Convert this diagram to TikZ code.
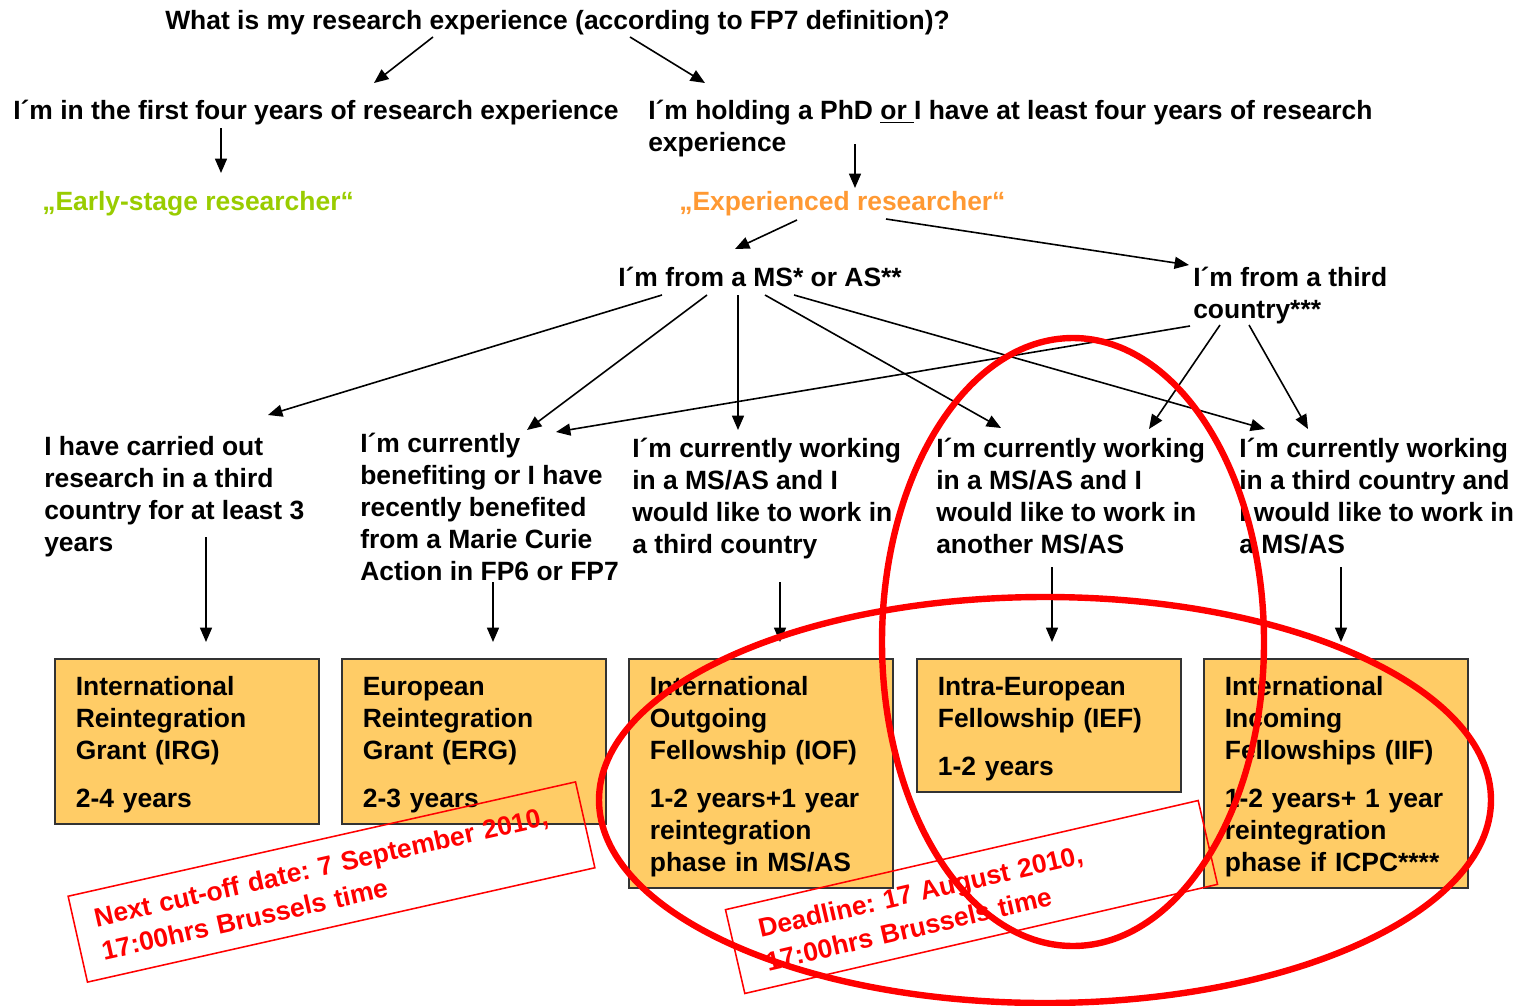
\documentclass[tikz,border=0pt]{standalone}
\usepackage{fontspec}
\setmainfont{Liberation Sans}
\usetikzlibrary{shapes,arrows.meta,positioning}
\definecolor{grantfill}{HTML}{FFCC66}
\definecolor{esrgreen}{HTML}{99CC00}
\definecolor{erorange}{HTML}{FF9933}
\frenchspacing

\begin{document}
\begin{tikzpicture}[x=0.025cm, y=-0.025cm,
  every node/.style={inner sep=0pt, anchor=north west, align=left, font=\bfseries\fontsize{18.8}{22.8}\selectfont},
  arr/.style={-{Triangle[length=0.36cm, width=0.3cm]}, line width=0.04cm},
  grant/.style={draw=black!80, line width=1.2pt, fill=grantfill, text width=5.55cm, inner xsep=0.525cm, minimum width=6.6cm, execute at begin node={\rule{0pt}{18pt}}},
  stamp/.style={draw=red, line width=1.1pt, text=red, anchor=center, font=\bfseries\fontsize{18.8}{24.2}\selectfont},
  ring/.style={draw=red, line width=0.16cm}]

\useasboundingbox (0,0) rectangle (1520,1006);

% Research experience
\node (title) at (165,10) {What is my research experience (according to FP7 definition)?};
\node (early) at (13,100) {I´m in the first four years of research experience};
\node (exper) at (648,100) {I´m holding a PhD \underline{or\ }I have at least four years of research\\experience};

% Researcher type
\node[text=esrgreen] (esr) at (42,191) {„Early-stage researcher“};
\node[text=erorange] (er) at (679,191) {„Experienced researcher“};

% Origin
\node (ms) at (618,267) {I´m from a MS* or AS**};
\node (tc) at (1193,267) {I´m from a third\\country***};

% Situation
\node (q1) at (44,436) {I have carried out\\research in a third\\country for at least 3\\years};
\node (q2) at (360,433) {I´m currently\\benefiting or I have\\recently benefited\\from a Marie Curie\\Action in FP6 or FP7};
\node (q3) at (632,438) {I´m currently working\\in a MS/AS and I\\would like to work in\\a third country};
\node (q4) at (936,438) {I´m currently working\\in a MS/AS and I\\would like to work in\\another MS/AS};
\node (q5) at (1239,438) {I´m currently working\\in a third country and\\I would like to work in\\a MS/AS};

% Grants
\node[grant, minimum height=4.125cm] (irg) at (54,658) {International\\Reintegration\\Grant (IRG)\\[0.4cm]2-4 years};
\node[grant, minimum height=4.125cm] (erg) at (341,658) {European\\Reintegration\\Grant (ERG)\\[0.4cm]2-3 years};
\node[grant, minimum height=5.725cm] (iof) at (628,658) {International\\Outgoing\\Fellowship (IOF)\\[0.4cm]1-2 years+1 year\\reintegration\\phase in MS/AS};
\node[grant, minimum height=3.325cm] (ief) at (916,658) {Intra-European\\Fellowship (IEF)\\[0.4cm]1-2 years};
\node[grant, minimum height=5.725cm] (iif) at (1203,658) {International\\Incoming\\Fellowships (IIF)\\[0.4cm]1-2 years+ 1 year\\reintegration\\phase if ICPC****};

% Arrows
\draw[arr] ([shift={(268,27)}]title.north west) -- ([shift={(361,-17)}]early.north west);
\draw[arr] ([shift={(465,27)}]title.north west) -- ([shift={(57,-17)}]exper.north west);
\draw[arr] ([shift={(208,28)}]early.north west) -- ([shift={(179,-18)}]esr.north west);
\draw[arr] ([shift={(207,44)}]exper.north west) -- ([shift={(176,-3)}]er.north west);
\draw[arr] ([shift={(118,29)}]er.north west) -- ([shift={(117,-18)}]ms.north west);
\draw[arr] ([shift={(207,28)}]er.north west) -- ([shift={(-4,-2)}]tc.north west);

\draw[arr] ([shift={(44,28)}]ms.north west) -- ([shift={(224,-21)}]q1.north west);
\draw[arr] ([shift={(89,28)}]ms.north west) -- ([shift={(167,-3)}]q2.north west);
\draw[arr] ([shift={(120,28)}]ms.north west) -- ([shift={(106,-8)}]q3.north west);
\draw[arr] ([shift={(147,28)}]ms.north west) -- ([shift={(65,-10)}]q4.north west);
\draw[arr] ([shift={(176,28)}]ms.north west) -- ([shift={(26,-9)}]q5.north west);
\draw[arr] ([shift={(-3,59)}]tc.north west) -- ([shift={(196,-1)}]q2.north west);
\draw[arr] ([shift={(27,58)}]tc.north west) -- ([shift={(213,-9)}]q4.north west);
\draw[arr] ([shift={(56,58)}]tc.north west) -- ([shift={(69,-9)}]q5.north west);

\draw[arr] ([shift={(162,101)}]q1.north west) -- ([shift={(152,-16)}]irg.north west);
\draw[arr] ([shift={(133,149)}]q2.north west) -- ([shift={(152,-16)}]erg.north west);
\draw[arr] ([shift={(148,144)}]q3.north west) -- ([shift={(152,-16)}]iof.north west);
\draw[arr] ([shift={(116,129)}]q4.north west) -- ([shift={(136,-16)}]ief.north west);
\draw[arr] ([shift={(102,129)}]q5.north west) -- ([shift={(138,-16)}]iif.north west);

% Dates
\node[stamp, rotate=12.7, text width=11.95cm, inner xsep=0.525cm, minimum height=2.2cm] (cutoff) at (331.5,882) {Next cut-off date: 7 September 2010,\\17:00hrs Brussels time};
\node[stamp, rotate=13, text width=10.725cm, inner xsep=0.7cm, minimum height=2.15cm] (deadline) at (971.5,897) {Deadline: 17 August 2010,\\17:00hrs Brussels time};

% Circles
\draw[ring] (1045,800) ellipse [x radius=446, y radius=203];
\draw[ring] (1073,642) ellipse [x radius=191, y radius=304];
\end{tikzpicture}
\end{document}
